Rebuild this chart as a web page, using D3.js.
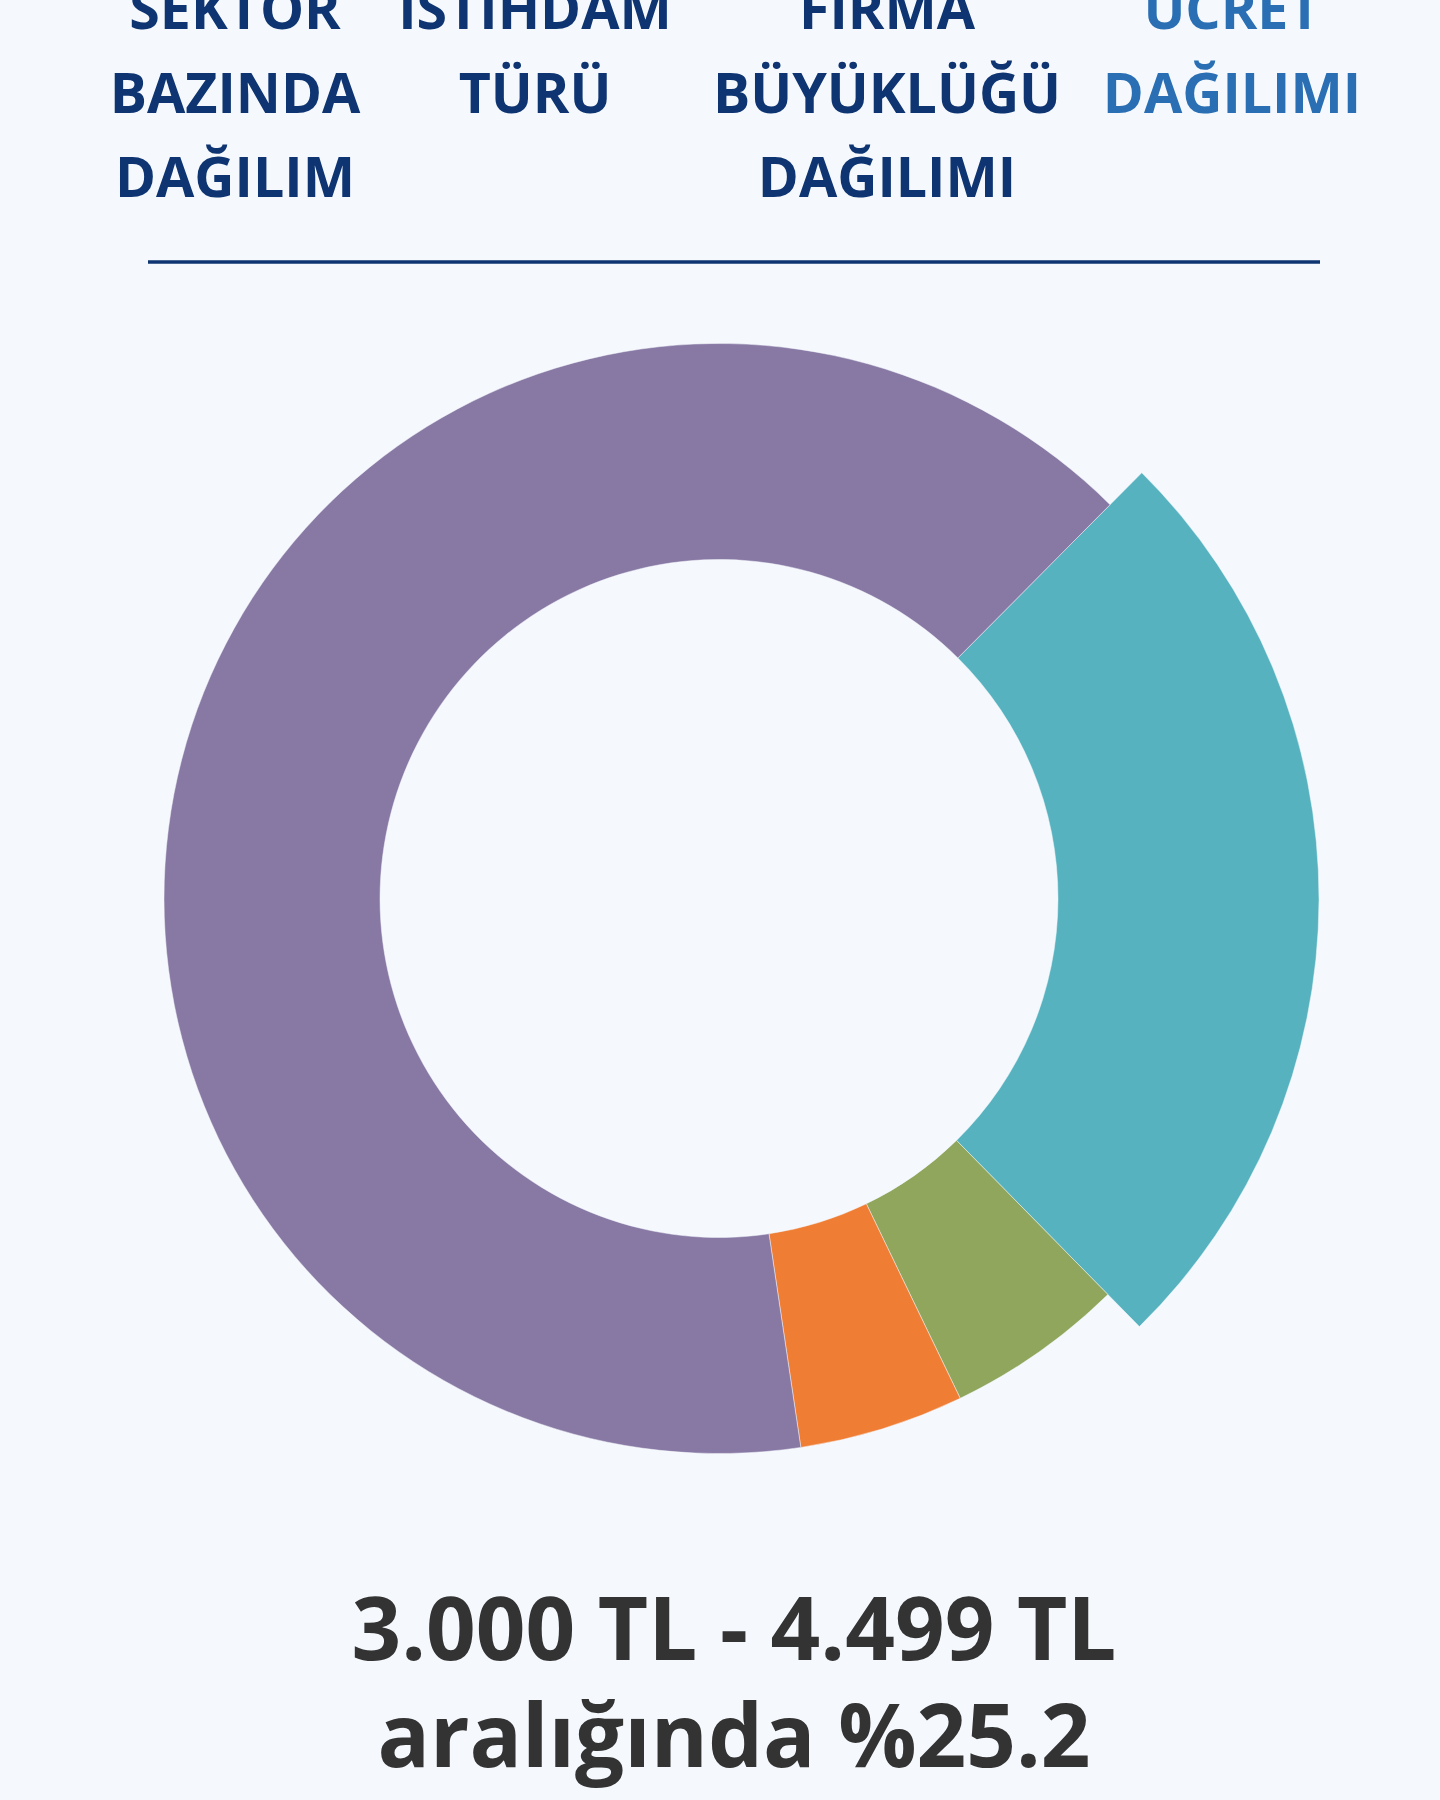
<!DOCTYPE html>
<html lang="tr">
<head>
<meta charset="utf-8">
<script src="https://cdn.jsdelivr.net/npm/d3@7"></script>
<style>
  html, body { margin: 0; padding: 0; background: #f5f9fd; }
  svg { display: block; font-family: "Open Sans", sans-serif; }
</style>
</head>
<body>
<svg width="1440" height="1800"></svg>
<script>
// ücret aralıkları (saat yönünde, üstten 45° sonra başlayarak)
const categories = ["3.000 TL - 4.499 TL", "4.500 TL - 5.999 TL", "6.000 TL ve üzeri", "3.000 TL altı"];
const shares = [25.2, 5.2, 4.8, 64.8];
const colors = ["#57b2bf", "#8fa65c", "#ef7d34", "#8878a4"];
const highlighted = "3.000 TL - 4.499 TL";

// sekme başlıkları
const tabs = [
  ["SEKTÖR", "BAZINDA", "DAĞILIM"],
  ["İSTİHDAM", "TÜRÜ"],
  ["FİRMA", "BÜYÜKLÜĞÜ", "DAĞILIMI"],
  ["ÜCRET", "DAĞILIMI"],
];
const activeTab = 3;
const caption = ["3.000 TL - 4.499 TL", "aralığında %25.2"];

const svg = d3.select("svg");
const width = +svg.attr("width");

svg.append("rect")
  .attr("width", width)
  .attr("height", +svg.attr("height"))
  .attr("fill", "#f5f9fd");

// tabs
const tabX = d3.scaleOrdinal().domain(d3.range(tabs.length)).range([235, 535, 887, 1232]);

const tabG = svg.append("g")
  .selectAll("text")
  .data(tabs)
  .join("text")
  .attr("text-anchor", "middle")
  .attr("font-size", 55.5)
  .attr("font-weight", 700)
  .attr("fill", (d, i) => (i === activeTab ? "#2a6fb3" : "#0e3471"));

tabG.selectAll("tspan")
  .data((d, i) => d.map((w) => ({ w, i })))
  .join("tspan")
  .attr("x", (d) => tabX(d.i))
  .attr("y", (d, j) => 29 + j * 84)
  .text((d) => d.w);

svg.append("line")
  .attr("x1", 148)
  .attr("x2", 1320)
  .attr("y1", 262)
  .attr("y2", 262)
  .attr("stroke", "#0e3471")
  .attr("stroke-width", 3.5);

// donut
const cx = 719;
const cy = 898.5;
const innerR = 339;
const outerR = 555;
const bigR = 600;

const pie = d3.pie()
  .sort(null)
  .value((d) => d)
  .startAngle((44.8 * Math.PI) / 180)
  .endAngle((44.8 * Math.PI) / 180 + 2 * Math.PI);

const arcs = pie(shares);

const arc = d3.arc()
  .innerRadius(innerR)
  .outerRadius((d, i) => (categories[i] === highlighted ? bigR : outerR));

const g = svg.append("g").attr("transform", `translate(${cx},${cy})`);

g.selectAll("path")
  .data(arcs)
  .join("path")
  .attr("d", (d, i) => arc(d, i))
  .attr("fill", (d, i) => colors[i])
  .attr("stroke", "#f5f9fd")
  .attr("stroke-width", 0.8)
  .attr("stroke-opacity", 0.6);

// caption
svg.append("g")
  .selectAll("text")
  .data(caption)
  .join("text")
  .attr("x", 734)
  .attr("y", (d, i) => 1660 + i * 107)
  .attr("text-anchor", "middle")
  .attr("font-size", 87)
  .attr("font-weight", 700)
  .attr("fill", "#333333")
  .text((d) => d);
</script>
</body>
</html>
